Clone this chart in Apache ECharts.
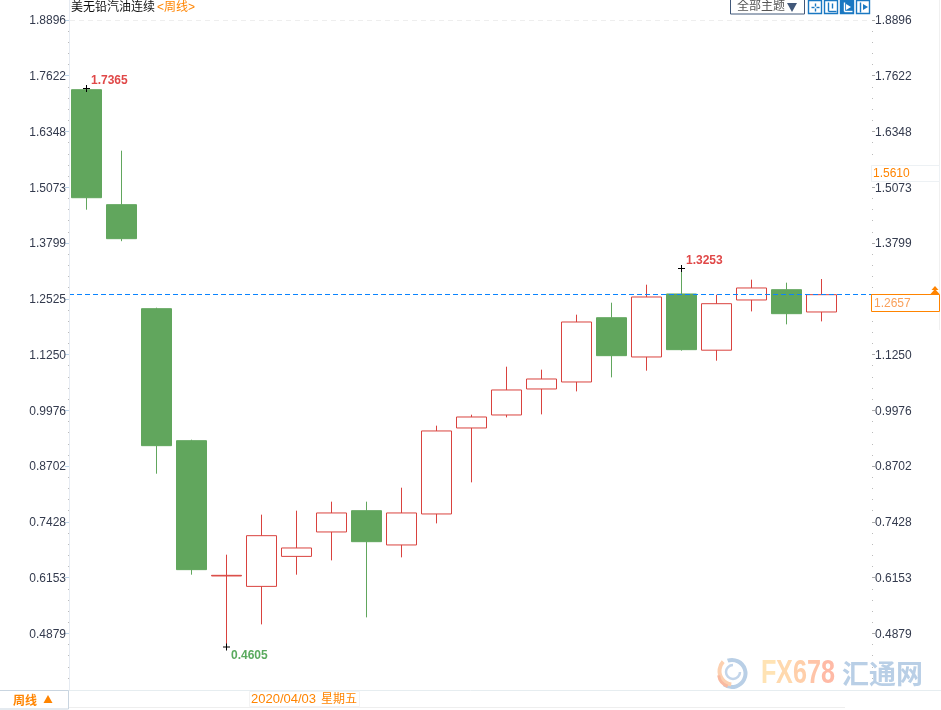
<!DOCTYPE html>
<html>
<head>
<meta charset="utf-8">
<title>美无铅汽油连续</title>
<style>
html, body { margin: 0; padding: 0; background: #fff; }
#chart { width: 941px; height: 710px; }
</style>
<script src="https://cdn.jsdelivr.net/npm/echarts@6/dist/echarts.min.js"></script>
</head>
<body>
<div id="chart"></div>
<script>
// weekly candles, the last empty slot is the gap left before the right axis
const weeks = ['2020/02/28', '2020/03/06', '2020/03/13', '2020/03/20', '2020/03/27', '2020/04/03',
    '2020/04/10', '2020/04/17', '2020/04/24', '2020/05/01', '2020/05/08', '2020/05/15', '2020/05/22',
    '2020/05/29', '2020/06/05', '2020/06/12', '2020/06/19', '2020/06/26', '2020/07/03', '2020/07/10',
    '2020/07/17', '2020/07/24', ''];
const opens = [1.7335, 1.4709, 1.2333, 0.9318, 0.6228, 0.5990, 0.6675, 0.7233, 0.7719, 0.6936, 0.7644,
    0.9608, 0.9905, 1.0499, 1.0659, 1.2127, 1.1230, 1.2669, 1.1385, 1.2532, 1.2767, 1.2258];
const closes = [1.4868, 1.3932, 0.9204, 0.6372, 0.6242, 0.7148, 0.6867, 0.7667, 0.7011, 0.7667, 0.9540,
    0.9859, 1.0476, 1.0727, 1.2029, 1.1260, 1.2600, 1.1397, 1.2447, 1.2806, 1.2219, 1.2653];
const lows = [1.4594, 1.3875, 0.8564, 0.6257, 0.4605, 0.5122, 0.6257, 0.6584, 0.5282, 0.6653, 0.7429,
    0.8366, 0.9850, 0.9919, 1.0444, 1.0764, 1.0917, 1.1374, 1.1145, 1.2271, 1.1975, 1.2043];
const highs = [1.7365, 1.5942, 1.2356, 0.9341, 0.6714, 0.7628, 0.7719, 0.7925, 0.7925, 0.8244, 0.9661,
    0.9912, 1.1008, 1.0940, 1.2196, 1.2470, 1.2881, 1.3253, 1.2653, 1.2996, 1.2927, 1.3011];

const yTicks = [1.8896, 1.7622, 1.6348, 1.5073, 1.3799, 1.2525, 1.1250, 0.9976, 0.8702, 0.7428, 0.6153, 0.4879];
const minorStep = 0.02548;
const lastPrice = 1.2657;
const crossPrice = '1.5610';
const crossDate = '2020/04/03';
const crossWeekday = '星期五';

const UP = '#d9423e';
const DOWN = '#61a65d';
const ORANGE = '#ff8400';
const BLUE = '#1a78c2';
const FONT = '"Liberation Sans", "Noto Sans CJK SC", sans-serif';

// 四个刻度轴共用一套范围, K线用自己的范围
const tickRange = { min: 0.3585, max: 1.9353 };
const priceRange = { min: 0.3623, max: 1.9384 };

function minorTicks() {
    const list = [];
    yTicks.forEach(t => {
        for (let i = 1; i < 5; i++) list.push(+(t - minorStep * i).toFixed(4));
    });
    return list;
}

function tickAxis(position, offset, showLabel, values, tickLen, tickColor, margin) {
    return {
        type: 'value',
        position: position,
        offset: offset,
        min: tickRange.min,
        max: tickRange.max,
        splitLine: { show: false },
        axisLine: { show: false },
        axisTick: { show: true, customValues: values, length: tickLen, lineStyle: { color: tickColor, width: 1 } },
        axisLabel: showLabel ? {
            show: true,
            customValues: values,
            margin: margin,
            showMinLabel: true,
            showMaxLabel: true,
            formatter: v => '{t|' + v.toFixed(4) + '}',
            rich: {
                // 文字比刻度低一点
                t: { padding: [2, 0, 0, 0], color: '#333a4d', fontSize: 12, fontFamily: FONT }
            }
        } : { show: false }
    };
}

function extremePoint(idx, value, color, pos) {
    return {
        coord: [weeks[idx], value],
        symbol: 'path://M0,3h7v1h-7z M3,0h1v7h-1z',
        symbolSize: 7,
        itemStyle: { color: '#000' },
        label: {
            show: true,
            position: pos,
            align: 'left',
            verticalAlign: 'top',
            formatter: value.toFixed(4),
            color: color,
            fontSize: 12,
            fontWeight: 'bold',
            fontFamily: FONT
        }
    };
}

function boxGraphics() {
    const icon = (x, active) => ({
        type: 'rect',
        shape: { x: x + 0.5, y: 0.5, width: 13, height: 13 },
        style: { fill: active ? BLUE : '#fff', stroke: BLUE, lineWidth: 1.4 }
    });
    const iconLine = (x1, y1, x2, y2, color) => ({
        type: 'line',
        shape: { x1: x1 + 0.5, y1: y1 + 0.5, x2: x2 + 0.5, y2: y2 + 0.5 },
        style: { stroke: color, lineWidth: 1.4 }
    });
    const text = (x, y, str, size, color, extra) => ({
        type: 'text',
        x: x,
        y: y,
        style: Object.assign({ text: str, fontSize: size, fill: color, fontFamily: FONT, textVerticalAlign: 'middle' }, extra || {})
    });
    const arc = (cx, cy, r, a0, a1, color, w) => ({
        type: 'arc',
        shape: { cx: cx, cy: cy, r: r, startAngle: a0, endAngle: a1 },
        style: { stroke: color, lineWidth: w, fill: null }
    });
    const logoLetter = (x, str, color) => ({
        type: 'text',
        x: x,
        y: 673.5,
        scaleX: 0.74,
        style: {
            text: str,
            fontSize: 34,
            fontWeight: 'bold',
            fontFamily: FONT,
            textVerticalAlign: 'middle',
            fill: color
        }
    });
    const items = [
        // 顶部虚线和底部分隔线
        { type: 'line', shape: { x1: 70, y1: 20.5, x2: 871, y2: 20.5 }, style: { stroke: '#eeeeee', lineWidth: 1, lineDash: [5, 4] } },
        { type: 'line', shape: { x1: 0, y1: 690.5, x2: 941, y2: 690.5 }, style: { stroke: '#e6edf0', lineWidth: 1 } },
        { type: 'line', shape: { x1: 69, y1: 707.5, x2: 845, y2: 707.5 }, style: { stroke: '#eeeeee', lineWidth: 1 } },
        { type: 'line', shape: { x1: 939.5, y1: 0, x2: 939.5, y2: 330 }, style: { stroke: '#f0f0f0', lineWidth: 1 } },
        { type: 'line', shape: { x1: 69.5, y1: 0, x2: 69.5, y2: 690 }, style: { stroke: '#e6ebf2', lineWidth: 1 } },

        // 标题
        text(71, 8, '美无铅汽油连续', 12, '#111'),
        text(157, 8, '<周线>', 12, ORANGE),

        // 右上按钮
        { type: 'rect', shape: { x: 730.5, y: -2, width: 74, height: 16 }, style: { fill: '#fff', stroke: '#41587a', lineWidth: 1 } },
        text(737, 7, '全部主题', 12, '#555'),
        { type: 'polygon', shape: { points: [[787, 3], [797, 3], [792, 12]] }, style: { fill: '#41587a' } },
        icon(808, false), iconLine(815, 3, 815, 6, BLUE), iconLine(815, 8, 815, 11, BLUE), iconLine(811, 7, 814, 7, BLUE), iconLine(816, 7, 819, 7, BLUE),
        icon(824, false), iconLine(828, 2, 828, 11, BLUE), iconLine(828, 11, 836, 11, BLUE), iconLine(832, 3, 832, 8, BLUE),
        icon(840, true), iconLine(844, 2, 844, 11, '#fff'), iconLine(844, 11, 852, 11, '#fff'), { type: 'polygon', shape: { points: [[846, 4], [846, 10], [851, 7]] }, style: { fill: '#fff' } },
        icon(856, false), iconLine(860, 2, 860, 12, BLUE), { type: 'polygon', shape: { points: [[863, 4], [863, 10], [868, 7]] }, style: { fill: BLUE } },

        // 右侧价格框
        { type: 'rect', shape: { x: 871.5, y: 165.5, width: 68, height: 16 }, style: { fill: '#fff', stroke: '#edf1f4', lineWidth: 1 } },
        text(873, 173.5, crossPrice, 12, ORANGE),
        { type: 'rect', shape: { x: 871.5, y: 294.5, width: 68, height: 17 }, style: { fill: '#fff', stroke: ORANGE, lineWidth: 1 } },
        text(874, 303.5, lastPrice.toFixed(4), 12, '#f9a05a'),
        { type: 'polygon', shape: { points: [[935, 286], [938.5, 290], [931.5, 290]] }, style: { fill: ORANGE } },
        { type: 'polygon', shape: { points: [[935, 289], [939.5, 294], [930.5, 294]] }, style: { fill: ORANGE } },

        // 左下周期框和日期
        { type: 'rect', shape: { x: -2, y: 690.5, width: 70.5, height: 18.5 }, style: { fill: '#fff', stroke: '#c9d5e0', lineWidth: 1 } },
        text(13, 702, '周线', 12, ORANGE, { fontWeight: 'bold' }),
        { type: 'polygon', shape: { points: [[48, 695], [52.5, 703], [43.5, 703]] }, style: { fill: ORANGE } },
        { type: 'rect', shape: { x: 249.5, y: 691.5, width: 110, height: 15 }, style: { fill: '#fff', stroke: '#f3f3f3', lineWidth: 1 } },
        text(251, 699.5, crossDate, 13, ORANGE),
        text(321, 699.5, crossWeekday, 12, ORANGE),

        // 水印
        arc(732, 673.5, 13.5, -1.9, 2.2, '#b9cfe6', 4),
        arc(733, 671, 13.5, 1.7, 3.9, '#fcd0b0', 4),
        arc(732, 673.5, 13.5, 1.9, 3.0, '#f9b9a0', 3),
        arc(733, 672, 7, 0, Math.PI * 1.5, '#c3d5ea', 2.5),
        logoLetter(761, 'F', '#ffe3b4'),
        logoLetter(776, 'X', '#ffd9ae'),
        logoLetter(793, '6', '#ffcfaa'),
        logoLetter(807, '7', '#ffc4a8'),
        logoLetter(821, '8', '#ffbaa6'),
        text(842, 673.5, '汇通网', 27, '#b9cfe6', { fontWeight: 'bold', fontFamily: '"Noto Sans CJK SC", sans-serif' })
    ];
    return items.map(el => Object.assign(el, { z: 100 }));
}

function initChart() {
    const chart = echarts.init(document.getElementById('chart'), null, { renderer: 'canvas' });
    const candles = opens.map((o, i) => [o, closes[i], lows[i], highs[i]]);
    const labelPos = [8, -10];

    chart.setOption({
        animation: false,
        backgroundColor: '#fff',
        grid: { left: 69, top: 0, width: 805, height: 690, containLabel: false },
        xAxis: [{
            type: 'category',
            data: weeks,
            boundaryGap: true,
            axisLine: { show: false },
            axisTick: { show: false },
            axisLabel: { show: false },
            splitLine: { show: false }
        }, {
            // 给最新价虚线用, 0到1就是整个绘图区宽度
            type: 'value',
            show: false,
            min: 0,
            max: 1,
            splitLine: { show: false }
        }],
        yAxis: [
            {
                type: 'value',
                show: false,
                min: priceRange.min,
                max: priceRange.max,
                splitLine: { show: false }
            },
            tickAxis('left', 0, true, yTicks, 4, '#bcd4ea', 3),
            tickAxis('right', -2, true, yTicks, 3, '#aaaaaa', 3),
            tickAxis('left', 0, false, minorTicks(), 1, '#bbbbbb', 0),
            tickAxis('right', -2, false, minorTicks(), 1, '#bbbbbb', 0)
        ],
        series: [{
            type: 'candlestick',
            xAxisIndex: 0,
            yAxisIndex: 0,
            barWidth: 30,
            data: candles,
            itemStyle: {
                color: '#fff',
                color0: DOWN,
                borderColor: UP,
                borderColor0: DOWN,
                borderWidth: 1
            },
            markPoint: {
                silent: true,
                data: [
                    extremePoint(0, highs[0], '#e04848', labelPos),
                    extremePoint(17, highs[17], '#e04848', labelPos),
                    extremePoint(4, lows[4], '#5aaa5e', [8, 6])
                ]
            }
        }, {
            type: 'line',
            xAxisIndex: 1,
            yAxisIndex: 0,
            data: [[0, lastPrice], [1, lastPrice]],
            symbol: 'none',
            silent: true,
            z: 5,
            lineStyle: { color: '#0a84ff', type: [5, 3], width: 1 }
        }],
        graphic: boxGraphics()
    });
}

document.addEventListener('DOMContentLoaded', initChart);
</script>
</body>
</html>
